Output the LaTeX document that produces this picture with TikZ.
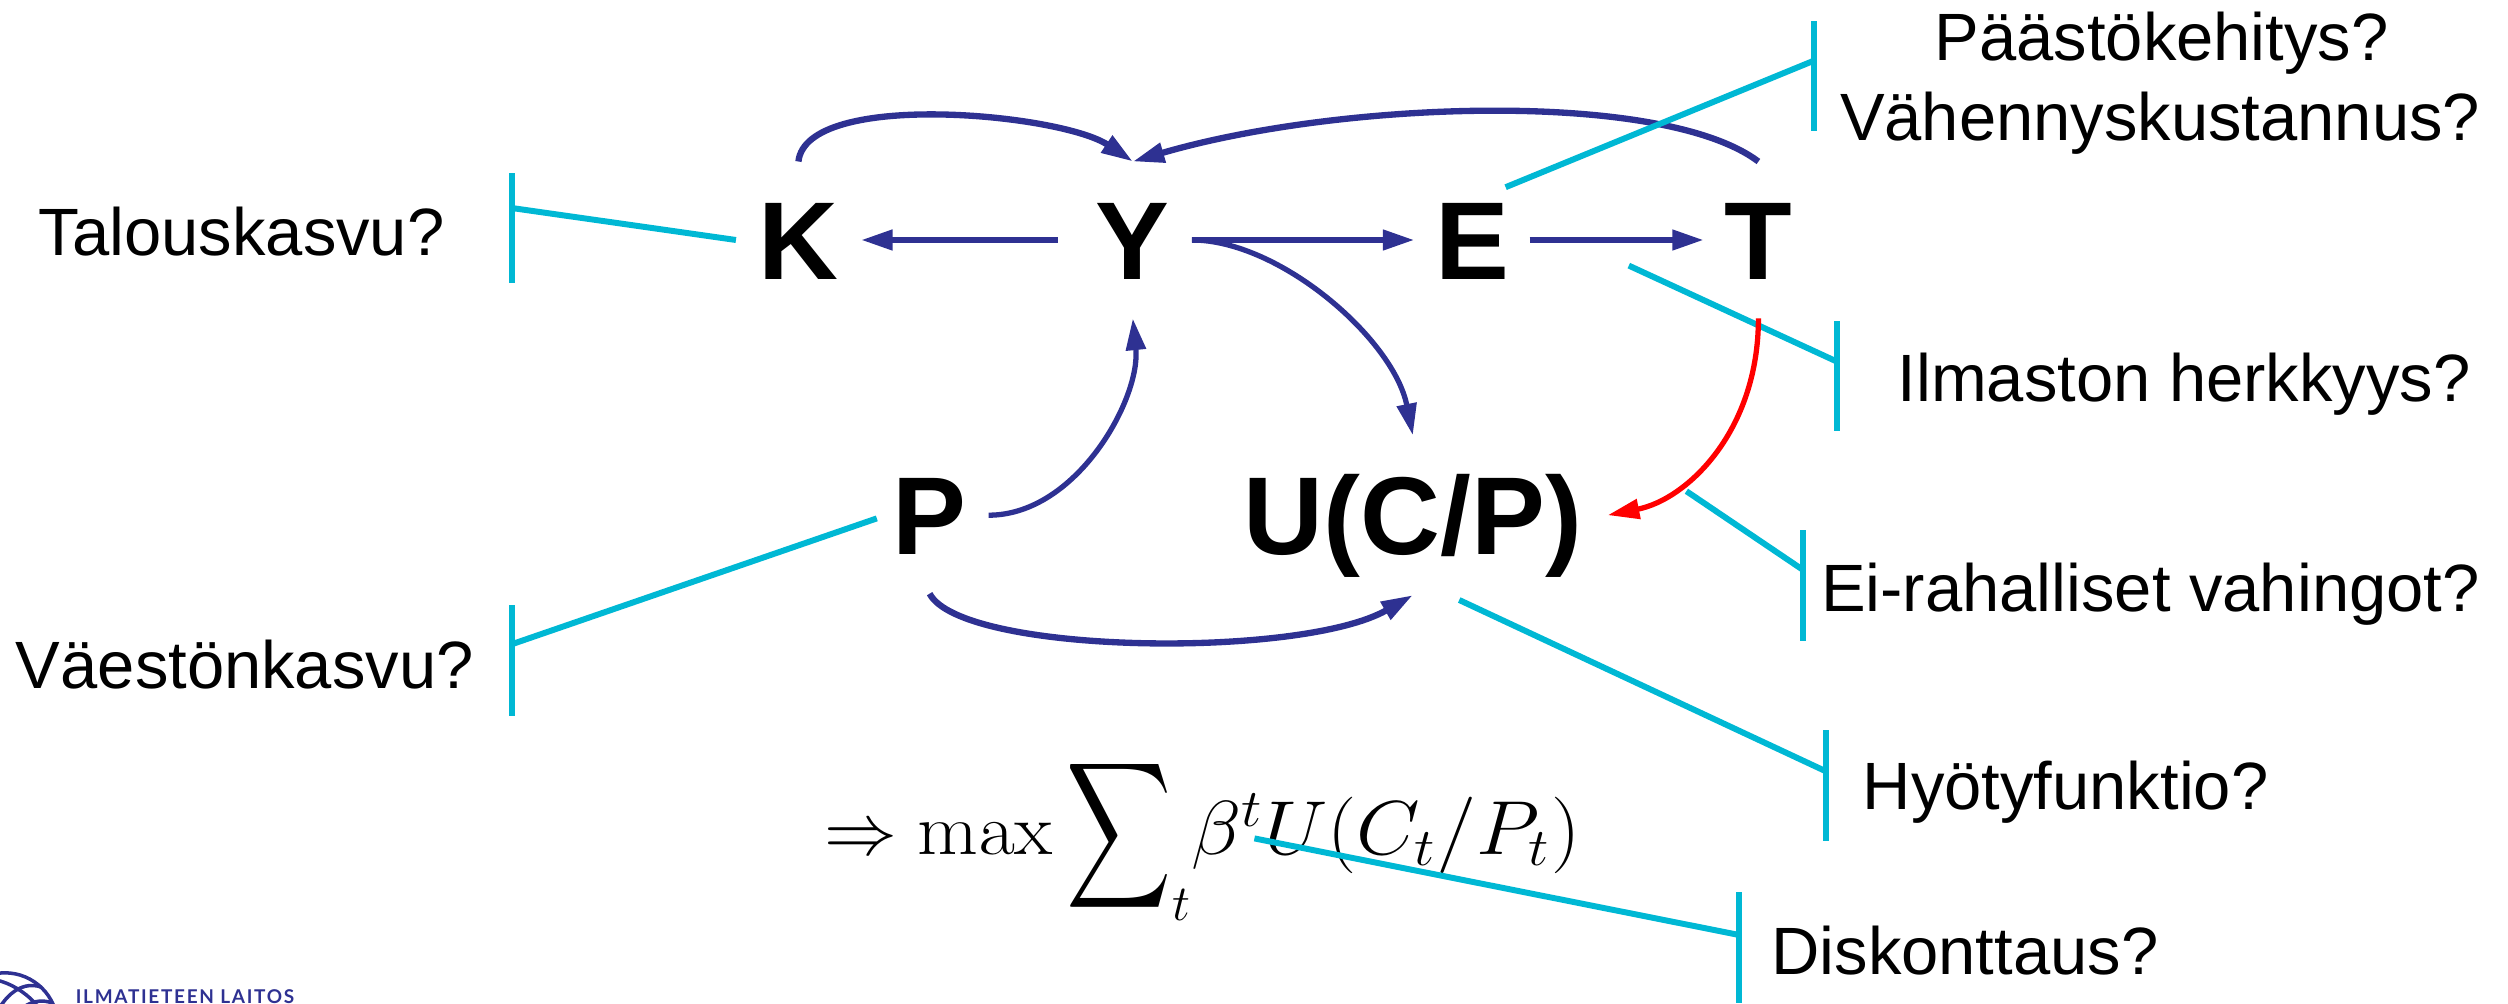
\documentclass[tikz,border=0pt]{standalone}
\usepackage{amsmath}
\usepackage{graphicx}
\usepackage[no-math]{fontspec}
\setmainfont{Liberation Sans}
\newfontfamily\logofont[LetterSpace=9]{Lato}
\usepackage{tikz}
\usetikzlibrary{arrows.meta, calc}
\definecolor{fmiblue}{HTML}{2E3192}
\definecolor{fmicyan}{HTML}{00B8D4}
\definecolor{fmired}{HTML}{FF0000}
\begin{document}
\begin{tikzpicture}[
  x=0.016cm, y=-0.016cm,
  var/.style={font=\fontsize{31.5}{36}\selectfont\bfseries, text height=22.5pt, text depth=0pt,
    inner sep=0pt, outer sep=0pt, minimum height=1.57cm},
  ask/.style={font=\fontsize{19.05}{22}\selectfont, anchor=base, inner sep=0pt, text=black},
  asky/.style={rectangle, fill=fmicyan, inner sep=0pt, outer sep=0pt, minimum width=0.06cm, minimum height=1.11cm},
  arr/.style={-{Triangle[length=9pt, width=5.5pt]}, fmiblue, line width=1.8pt},
  arc/.style={arr, line width=1.5pt},
  hit/.style={fmicyan, line width=1.7pt}]
  \useasboundingbox (0,0) rectangle (1567.5,626.9);
  % variables
  \node[var, minimum width=1.25cm] (K) at (499,150) {K};
  \node[var, minimum width=1.34cm] (Y) at (708,150) {Y};
  \node[var, minimum width=1.15cm] (E) at (920,150) {E};
  \node[var, minimum width=1.09cm] (T) at (1099,150) {T};
  \node[var, minimum width=1.18cm] (P) at (581,322) {P};
  \node[var, minimum width=3.9cm, minimum height=1.6cm] (U) at (883,322) {U(C/P)};
  \node[font=\fontsize{21.5}{26}\selectfont, anchor=base west, inner sep=0pt] (obj) at (515,534)
    {$\Rightarrow \mathrel{}\scalebox{1.08}[1]{$\max$}\mkern3.5mu\vcenter{\hbox{\scalebox{1.0}[1.4]{$\displaystyle\sum$}}}_{t}\scalebox{1.13}[1.05]{$\beta^{t}U(C_{t}/P_{t})$}$};
  % questions
  \node[ask] (qK) at (151,160) {Talouskasvu?};
  \node[ask] (qP) at (153,430) {Väestönkasvu?};
  \node[ask] (qE) at (1351,38) {Päästökehitys?};
  \node[ask] (qEb) at (1350,88) {Vähennyskustannus?};
  \node[ask] (qT) at (1365,251) {Ilmaston herkkyys?};
  \node[ask] (qD) at (1344,382) {Ei-rahalliset vahingot?};
  \node[ask] (qU) at (1291,506) {Hyötyfunktio?};
  \node[ask] (qB) at (1228,609) {Diskonttaus?};
  % bars
  \node[asky] (bK) at (320,142.5) {};
  \node[asky] (bP) at (320,413) {};
  \node[asky] (bE) at (1134,47.5) {};
  \node[asky] (bT) at (1148,235) {};
  \node[asky] (bD) at (1127,366) {};
  \node[asky] (bU) at (1141,491) {};
  \node[asky] (bB) at (1087,592) {};
  % free ends
  \coordinate (eE) at (941,117);
  \coordinate (eT) at (1018,166);
  \coordinate (eD) at (1054,307);
  \coordinate (eU) at (912,375);
  \coordinate (eB) at (784,524);
  \coordinate (eP) at (548,324);
  \draw[arr] ([xshift=-0.08cm]Y.west) -- (K.east);
  \draw[arr] ([xshift=-0.08cm]Y.east) -- (E.west);
  \draw[arr] (E.east) -- (T.west);
  \draw[arc] ([xshift=-0.08cm]Y.east) .. controls +(55,0) and +(-12,-60) .. (U.north);
  \draw[arc] (P.east) .. controls +(55,0) and +(5,50) .. (Y.south);
  \draw[arr] (K.north) .. controls +(5,-45) and +(-45,-30) .. (Y.north);
  \draw[arr] (T.north) .. controls +(-60,-45) and +(130,-38) .. (Y.north);
  \draw[arr] (P.south) .. controls +(20,38) and +(-70,40) .. (U.south);
  \draw[hit] ($(bK.north)!0.32!(bK.south)$) -- (K.west);
  \draw[hit] ($(bP.north)!0.35!(bP.south)$) -- (eP);
  \draw[hit] ($(bE.north)!0.36!(bE.south)$) -- (eE);
  \draw[hit] ($(bT.north)!0.37!(bT.south)$) -- (eT);
  \draw[hit] ($(bD.north)!0.36!(bD.south)$) -- (eD);
  \draw[hit] ($(bU.north)!0.37!(bU.south)$) -- (eU);
  \draw[hit] ($(bB.north)!0.39!(bB.south)$) -- (eB);
  \draw[arr, fmired, line width=1.5pt] (T.south) .. controls +(0,70) and +(50,-10) .. (U.east);
  % logo
  \begin{scope}[fmiblue, line width=1pt]
    \clip (0,600) rectangle (40,626.9);
    \draw (3,641) circle (33);
    \draw (-12,612) .. controls (5,610) and (25,625) .. (30,640);
    \draw (-5,640) .. controls (0,625) and (12,612) .. (26,617);
    \draw (5,640) .. controls (10,632) and (20,622) .. (33,627);
  \end{scope}
  \node[font=\logofont\fontsize{5.4}{6}\selectfont\bfseries, text=fmiblue, anchor=base west, inner sep=0pt] (logo) at (47,627) {ILMATIETEEN LAITOS};
\end{tikzpicture}
\end{document}
